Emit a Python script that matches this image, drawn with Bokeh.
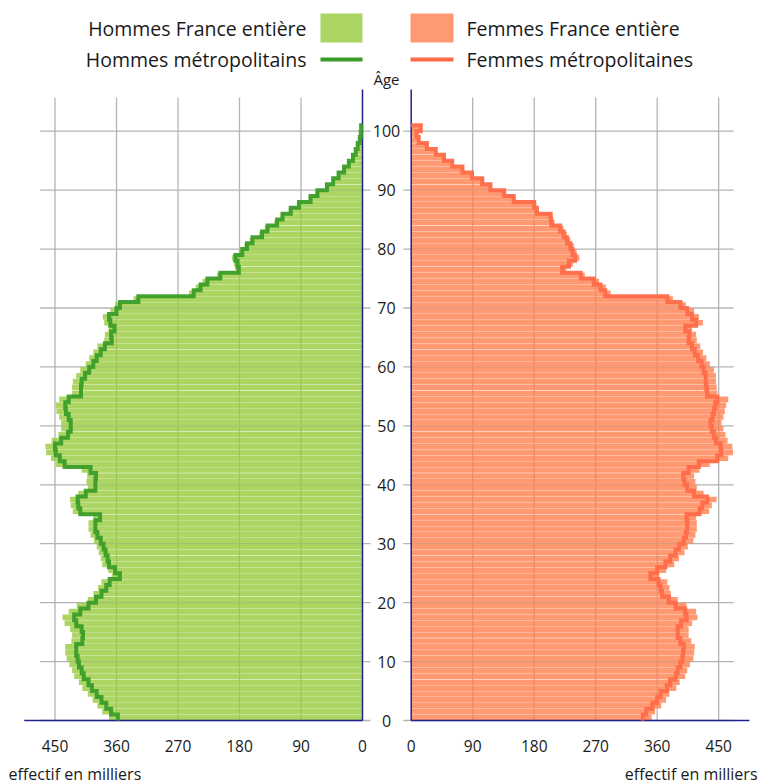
from bokeh.plotting import figure
from bokeh.models import Range1d
from bokeh.embed import file_html
from bokeh.resources import INLINE
from bokeh.core.properties import value

# ---------------- data (milliers) ----------------
ages = list(range(0, 101))

hommes_france = [371, 381, 388, 395, 402, 410, 415, 422, 425, 429,
                 433, 435, 435, 426, 425, 428, 436, 439, 430, 418,
                 402, 394, 387, 382, 367, 372, 381, 383, 386, 389,
                 393, 398, 401, 401, 394, 424, 427, 428, 416, 402,
                 404, 403, 411, 449, 456, 463, 464, 455, 445, 441,
                 441, 444, 448, 449, 444, 425, 425, 424, 419, 413,
                 405, 400, 394, 388, 378, 377, 372, 378, 380, 369,
                 362, 335, 254, 244, 234, 213, 186, 188, 191, 181,
                 173, 165, 151, 143, 129, 120, 108, 96, 79, 69,
                 53, 44, 36, 28, 21, 14.5, 10.5, 7.5, 4.5, 3, 2.5]

hommes_metro = [358, 368, 375, 382, 389, 396, 401, 408, 411, 415,
                417, 419, 419, 410, 409, 411, 419, 422, 413, 401,
                390, 382, 375, 370, 355, 362, 371, 373, 376, 379,
                383, 388, 391, 391, 384, 413, 416, 417, 405, 391,
                391, 390, 398, 436, 443, 449, 450, 441, 431, 427,
                427, 430, 434, 435, 430, 412, 412, 411, 406, 400,
                394, 389, 383, 377, 367, 368, 363, 369, 371, 360,
                355, 328, 247, 237, 227, 208, 181, 183, 186, 176,
                169, 161, 147, 139, 125, 117, 105, 93, 76, 66,
                52, 43, 35, 27, 20, 14, 10, 7, 4, 2.5, 2]

femmes_france = [352, 357, 366, 373, 378, 388, 393, 401, 404, 408,
                 413, 414, 415, 410, 406, 406, 411, 419, 417, 403,
                 390, 380, 378, 375, 363, 373, 385, 392, 400, 405,
                 413, 416, 418, 418, 417, 436, 440, 447, 428, 418,
                 416, 414, 422, 437, 464, 471, 470, 463, 460, 457,
                 454, 457, 459, 461, 464, 448, 447, 446, 446, 443,
                 437, 432, 427, 423, 418, 417, 411, 427, 421, 414,
                 402, 383, 292, 285, 275, 254, 227, 237, 246, 242,
                 238, 233, 228, 223, 210, 207, 187, 183, 153, 139,
                 118, 106, 91, 77, 62, 49, 37, 24, 12, 9, 15]

femmes_metro = [339, 344, 353, 360, 365, 374, 379, 387, 390, 394,
                397, 398, 399, 394, 390, 390, 395, 403, 401, 387,
                377, 367, 365, 362, 350, 360, 372, 379, 387, 392,
                399, 402, 404, 404, 403, 422, 426, 433, 414, 404,
                400, 398, 406, 421, 448, 454, 453, 446, 443, 440,
                438, 441, 443, 445, 448, 433, 432, 431, 431, 428,
                425, 420, 415, 411, 406, 407, 401, 417, 411, 404,
                394, 375, 284, 277, 267, 248, 221, 231, 240, 236,
                233, 228, 223, 218, 205, 204, 184, 180, 150, 136,
                116, 104, 89, 75, 60, 48, 36, 23, 11, 8, 14]

x_ticks = [0, 90, 180, 270, 360, 450]
x_tick_labels = ["0", "90", "180", "270", "360", "450"]
age_ticks = [0, 10, 20, 30, 40, 50, 60, 70, 80, 90, 100]
age_tick_labels = ["0", "10", "20", "30", "40", "50", "60", "70", "80", "90", "100"]
legend_labels = ["Hommes France entière", "Hommes métropolitains",
                 "Femmes France entière", "Femmes métropolitaines"]
x_title = "effectif en milliers"
age_title = "Âge"

# ---------------- layout geometry (pixels) ----------------
W, H = 765, 783
PXK = 0.6833           # pixels per thousand
L0, R0 = 362.0, 410.7  # x of the two zero lines
Y0, PY = 720.0, 5.893  # y of age 0, pixels per year
FONT = value("Open Sans")

def cx(px):
    return (px - R0) / PXK

def cy(py):
    return (Y0 - py) / PY

GREEN_FILL, GREEN_LINE = "#97ca3c", "#3b9d29"
PINK_FILL, PINK_LINE = "#ff7f4f", "#ff6a48"
AXIS_BLUE, GRID_COL = "#20208f", "#b4b4b4"
TXT = "#1a1a1a"

p = figure(width=W, height=H, output_backend="svg", toolbar_location=None,
           x_range=Range1d(-R0 / PXK, (W - R0) / PXK),
           y_range=Range1d((Y0 - H) / PY, Y0 / PY),
           x_axis_location=None, y_axis_location=None, min_border=0,
           background_fill_color="white", border_fill_color="white",
           outline_line_color=None)
p.extra_x_ranges = {"left": Range1d(L0 / PXK, (L0 - W) / PXK)}
p.grid.visible = False

GRID_MIN = -8 / PXK
GRID_MAX = x_ticks[-1] + 15 / PXK
GRID_TOP = cy(97)
AX_TOP = cy(89)
AX_MAX = 495

panels = [("left", hommes_france, hommes_metro, GREEN_FILL, GREEN_LINE),
          ("default", femmes_france, femmes_metro, PINK_FILL, PINK_LINE)]

# grid
for rng, *_ in panels:
    vt = x_ticks[1:]
    p.segment(x0=vt, y0=[0] * len(vt), x1=vt, y1=[GRID_TOP] * len(vt),
              x_range_name=rng, line_color=GRID_COL, line_width=1.3)
    p.segment(x0=[GRID_MIN] * len(age_ticks), y0=age_ticks,
              x1=[GRID_MAX] * len(age_ticks), y1=age_ticks,
              x_range_name=rng, line_color=GRID_COL, line_width=1.3)

# bars
for rng, france, metro, fill, line in panels:
    p.hbar(y=[a + 0.5 for a in ages], left=0, right=france, height=0.95,
           x_range_name=rng, fill_color=fill, fill_alpha=0.8, line_color=None)

# axes lines
for rng, *_ in panels:
    p.segment(x0=[0, 0], y0=[0, 0], x1=[0, AX_MAX], y1=[AX_TOP, 0],
              x_range_name=rng, line_color=AXIS_BLUE, line_width=1.5)

# metropolitan outlines
for rng, france, metro, fill, line in panels:
    xs, ys = [], []
    for a, v in zip(ages, metro):
        xs += [v, v]
        ys += [a, a + 1]
    xs.append(0)
    ys.append(ages[-1] + 1)
    p.line(xs, ys, x_range_name=rng, line_color=line, line_width=4,
           line_join="miter", line_alpha=0.95)

# age labels
age_x = cx(386)
p.text(x=[age_x] * len(age_ticks), y=age_ticks, text=age_tick_labels,
       text_align="center", text_baseline="middle", text_font=FONT,
       text_font_size="16px", text_color=TXT)
p.text(x=[age_x], y=[cy(78)], text=[age_title], text_align="center",
       text_baseline="middle", text_font=FONT, text_font_size="15px",
       text_color=TXT)

# x tick labels
for rng, *_ in panels:
    p.text(x=x_ticks, y=[cy(745)] * len(x_ticks), text=x_tick_labels,
           x_range_name=rng, text_align="center", text_baseline="middle",
           text_font=FONT, text_font_size="15.5px", text_color=TXT)

p.text(x=[cx(8)], y=[cy(773)], text=[x_title], text_align="left",
       text_baseline="middle", text_font=FONT, text_font_size="16px", text_color=TXT)
p.text(x=[cx(757)], y=[cy(773)], text=[x_title], text_align="right",
       text_baseline="middle", text_font=FONT, text_font_size="16px", text_color=TXT)

# legend
row1, row2 = cy(28), cy(59)
p.text(x=[cx(306), cx(306)], y=[row1, row2], text=legend_labels[:2],
       text_align="right", text_baseline="middle", text_font=FONT,
       text_font_size="19.5px", text_color=TXT)
p.text(x=[cx(466), cx(466)], y=[row1, row2], text=legend_labels[2:],
       text_align="left", text_baseline="middle", text_font=FONT,
       text_font_size="19.5px", text_color=TXT)
p.quad(left=[cx(320), cx(410)], right=[cx(362), cx(453)],
       top=[cy(13), cy(13)], bottom=[cy(42), cy(42)],
       fill_color=[GREEN_FILL, PINK_FILL], fill_alpha=0.8, line_color=None)
p.segment(x0=[cx(320), cx(410)], y0=[row2, row2], x1=[cx(362), cx(453)],
          y1=[row2, row2], line_color=[GREEN_LINE, PINK_LINE], line_width=4)

open("out.html", "w").write(file_html(p, INLINE))
